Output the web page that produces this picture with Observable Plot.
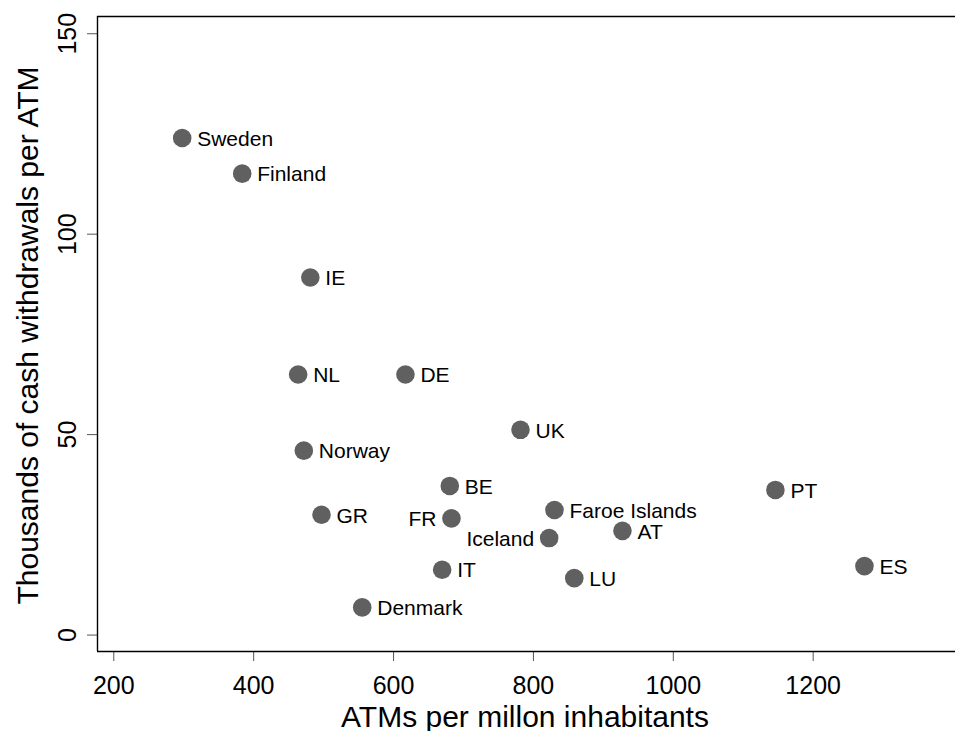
<!DOCTYPE html>
<html>
<head>
<meta charset="utf-8">
<script src="https://cdn.jsdelivr.net/npm/d3@7"></script>
<script src="https://cdn.jsdelivr.net/npm/@observablehq/plot@0.6"></script>
<style>
  html, body { margin: 0; padding: 0; background: white; }
  #chart svg { display: block; font-family: "Liberation Sans", Arial, sans-serif; }
</style>
</head>
<body>
<div id="chart"></div>
<script>
const countries = ["Sweden","Finland","IE","NL","DE","UK","Norway","BE","GR","FR","Faroe Islands","Iceland","AT","PT","IT","LU","ES","Denmark"];
const atmsPerMillion = [297.8,383.6,481,463.6,617,781.5,471.7,680.4,497,682.8,830.1,822.5,927.3,1146,669.5,858.4,1273.3,555.2];
const withdrawalsPerAtm = [124.0,115.1,89.2,65.0,65.0,51.2,46.0,37.2,30.0,29.1,31.2,24.2,26.0,36.2,16.3,14.2,17.2,6.9];
const labelSide = ["right","right","right","right","right","right","right","right","right","left","right","left","right","right","right","right","right","right"];
const xTicks = [200,400,600,800,1000,1200];
const yTicks = [0,50,100,150];
const xTitle = "ATMs per millon inhabitants";
const yTitle = "Thousands of cash withdrawals per ATM";

const data = countries.map((c, i) => ({country: c, x: atmsPerMillion[i], y: withdrawalsPerAtm[i], side: labelSide[i]}));
const xDomain = [176.7, 1403.5];
const yDomain = [-4.1, 154.3];
const font = "Liberation Sans, Arial, sans-serif";

const chart = Plot.plot({
  width: 955,
  height: 731,
  marginLeft: 97,
  marginRight: 0,
  marginTop: 16,
  marginBottom: 80,
  style: {fontFamily: font, background: "white", overflow: "visible"},
  x: {domain: xDomain, label: null},
  y: {domain: yDomain, label: null},
  marks: [
    Plot.axisX({ticks: xTicks, tickSize: 10, tickPadding: 15, fontSize: 25, stroke: "#555", fill: "black", label: null, tickFormat: d => String(d)}),
    Plot.axisY({ticks: yTicks, tickSize: 10, tickPadding: 12, tickRotate: -90, fontSize: 25, stroke: "#555", fill: "black", label: null, tickFormat: d => String(d)}),
    Plot.ruleX([xDomain[0]], {stroke: "black", strokeWidth: 1.4}),
    Plot.ruleY([yDomain[0]], {stroke: "black", strokeWidth: 1.4}),
    Plot.ruleY([yDomain[1]], {stroke: "black", strokeWidth: 1.4}),
    Plot.dot(data, {x: "x", y: "y", r: 9.3, fill: "#606060", stroke: null}),
    Plot.text(data.filter(d => d.side === "right"), {x: "x", y: "y", text: "country", textAnchor: "start", dx: 15, dy: 1, fontSize: 21, fill: "black"}),
    Plot.text(data.filter(d => d.side === "left"), {x: "x", y: "y", text: "country", textAnchor: "end", dx: -15, dy: 1, fontSize: 21, fill: "black"}),
    Plot.text([xTitle], {frameAnchor: "bottom", text: d => d, textAnchor: "middle", lineAnchor: "bottom", dy: 75, dx: -1.5, fontSize: 30, fill: "black"}),
    Plot.text([yTitle], {frameAnchor: "left", text: d => d, rotate: -90, textAnchor: "middle", lineAnchor: "bottom", dx: -60, dy: 1.5, fontSize: 30, fill: "black"})
  ]
});
document.getElementById("chart").appendChild(chart);
</script>
</body>
</html>
